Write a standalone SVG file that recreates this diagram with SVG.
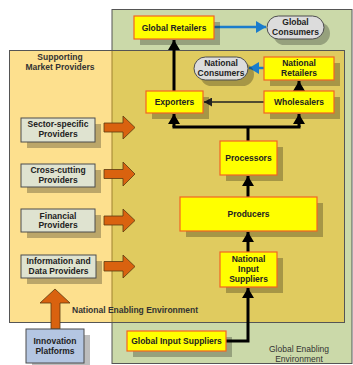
<svg xmlns="http://www.w3.org/2000/svg" width="353" height="365" viewBox="0 0 353 365">
<style>
text{font-family:"Liberation Sans",Arial,sans-serif;font-size:8.5px;font-weight:bold;fill:#222;text-anchor:middle}
.env{fill:#333}
.start{text-anchor:start}
.reg{font-weight:normal}
.sh{fill:#000;opacity:0.26}
.yb{fill:#ffff00;stroke:#f26522;stroke-width:1.2}
.gb{fill:#dfe3d0;stroke:#4d4d4d;stroke-width:1}
.pill{fill:#dcdcdc;stroke:#4d4d4d;stroke-width:1}
.blue{fill:#b4c6e2;stroke:#4d4d4d;stroke-width:1}
.blk{fill:none;stroke:#000;stroke-width:3}
.thin{fill:none;stroke:#222;stroke-width:1.6}
.bl{fill:none;stroke:#1a7ccc;stroke-width:2.5}
.oa{fill:#d9620f;stroke:#5a3a10;stroke-width:0.8}
</style>
<defs>
<marker id="ab" markerUnits="userSpaceOnUse" markerWidth="12" markerHeight="12" viewBox="0 0 12 12" refX="10" refY="6" orient="auto"><path d="M0,0 L10,6 L0,12 z" fill="#000"/></marker>
<marker id="at" markerUnits="userSpaceOnUse" markerWidth="9" markerHeight="9" viewBox="0 0 9 9" refX="8" refY="4.5" orient="auto"><path d="M0,0 L8,4.5 L0,9 z" fill="#222"/></marker>
<marker id="abl" markerUnits="userSpaceOnUse" markerWidth="12" markerHeight="12" viewBox="0 0 12 12" refX="10" refY="6" orient="auto"><path d="M0,0 L10,6 L0,12 z" fill="#1a7ccc"/></marker>
</defs>
<g id="global-env">
<rect x="112" y="9.5" width="240" height="354" fill="#cbd9a9" stroke="#555" stroke-width="1"/>
<text class="env reg" x="299" y="352">Global Enabling</text>
<text class="env reg" x="299" y="362">Environment</text>
</g>
<g id="national-env">
<rect x="9.5" y="50.5" width="335" height="272" fill="#fbbb04" fill-opacity="0.45" stroke="#555" stroke-width="1"/>
<text class="env" x="60" y="60">Supporting</text>
<text class="env" x="60" y="70">Market Providers</text>
<text class="env start" x="72" y="313">National Enabling Environment</text>
</g>
<g id="connectors">
<path class="blk" d="M174 91 V40" marker-end="url(#ab)"/>
<path class="blk" d="M299 91 V81" marker-end="url(#ab)"/>
<path class="blk" d="M248 141 V127 M172.5 127 H300.5"/>
<path class="blk" d="M174 127 V114" marker-end="url(#ab)"/>
<path class="blk" d="M299 127 V114" marker-end="url(#ab)"/>
<path class="blk" d="M248 197 V176" marker-end="url(#ab)"/>
<path class="blk" d="M248 252 V232" marker-end="url(#ab)"/>
<path class="blk" d="M226 341 H248 V288" marker-end="url(#ab)"/>
<path class="thin" d="M264 102 H204" marker-end="url(#at)"/>
<path class="bl" d="M214 27 H266" marker-end="url(#abl)"/>
<path class="bl" d="M264 68 H249" marker-end="url(#abl)"/>
<polygon class="oa" points="104,123 123,123 123,116 135,127.5 123,139 123,132 104,132"/>
<polygon class="oa" points="104,169.5 123,169.5 123,162 135,174 123,186 123,178.5 104,178.5"/>
<polygon class="oa" points="104,216 123,216 123,209 135,220.5 123,232 123,225 104,225"/>
<polygon class="oa" points="104,261.5 123,261.5 123,255 135,266.5 123,278 123,271 104,271"/>
<polygon class="oa" points="51,329 51,303 40,303 55,289 70,303 60,303 60,329"/>
</g>
<g id="global-retailers"><rect class="sh" x="140" y="22" width="80" height="23"/><rect class="yb" x="134" y="16" width="80" height="23"/><text x="174" y="30.5">Global Retailers</text></g>
<g id="global-consumers"><rect class="sh" x="273" y="22" width="57" height="23" rx="11.5"/><rect class="pill" x="267" y="16" width="57" height="23" rx="11.5"/><text x="295.5" y="25">Global</text><text x="295.5" y="35">Consumers</text></g>
<g id="national-retailers"><rect class="sh" x="270" y="63" width="70" height="23"/><rect class="yb" x="264" y="57" width="70" height="23"/><text x="299" y="66">National</text><text x="299" y="76">Retailers</text></g>
<g id="national-consumers"><rect class="sh" x="200" y="63" width="54" height="23" rx="11.5"/><rect class="pill" x="194" y="57" width="54" height="23" rx="11.5"/><text x="221" y="66">National</text><text x="221" y="76">Consumers</text></g>
<g id="exporters"><rect class="sh" x="152" y="97" width="57" height="22"/><rect class="yb" x="146" y="91" width="57" height="22"/><text x="174.5" y="105">Exporters</text></g>
<g id="wholesalers"><rect class="sh" x="270" y="97" width="70" height="22"/><rect class="yb" x="264" y="91" width="70" height="22"/><text x="299" y="105">Wholesalers</text></g>
<g id="processors"><rect class="sh" x="226" y="147" width="57" height="34"/><rect class="yb" x="220" y="141" width="57" height="34"/><text x="248.5" y="161">Processors</text></g>
<g id="producers"><rect class="sh" x="186" y="203" width="137" height="34"/><rect class="yb" x="180" y="197" width="137" height="34"/><text x="248.5" y="217">Producers</text></g>
<g id="national-input-suppliers"><rect class="sh" x="226" y="258" width="57" height="35"/><rect class="yb" x="220" y="252" width="57" height="35"/><text x="248.5" y="262">National</text><text x="248.5" y="272">Input</text><text x="248.5" y="282">Suppliers</text></g>
<g id="global-input-suppliers"><rect class="sh" x="133" y="337" width="99" height="20"/><rect class="yb" x="127" y="331" width="99" height="20"/><text x="176.5" y="344">Global Input Suppliers</text></g>
<g id="sector-specific"><rect class="sh" x="27" y="124" width="74" height="24"/><rect class="gb" x="21" y="118" width="74" height="24"/><text x="58" y="127">Sector-specific</text><text x="58" y="137">Providers</text></g>
<g id="cross-cutting"><rect class="sh" x="27" y="170" width="74" height="23"/><rect class="gb" x="21" y="164" width="74" height="23"/><text x="58" y="173">Cross-cutting</text><text x="58" y="183">Providers</text></g>
<g id="financial"><rect class="sh" x="27" y="215" width="74" height="23"/><rect class="gb" x="21" y="209" width="74" height="23"/><text x="58" y="219">Financial</text><text x="58" y="228">Providers</text></g>
<g id="information-data"><rect class="sh" x="27" y="261" width="75" height="23"/><rect class="gb" x="21" y="255" width="75" height="23"/><text x="58.5" y="264">Information and</text><text x="58.5" y="274">Data Providers</text></g>
<g id="innovation-platforms"><rect class="sh" x="32" y="335" width="58" height="34"/><rect class="blue" x="26" y="329" width="58" height="34"/><text x="55" y="344">Innovation</text><text x="55" y="354">Platforms</text></g>
</svg>
